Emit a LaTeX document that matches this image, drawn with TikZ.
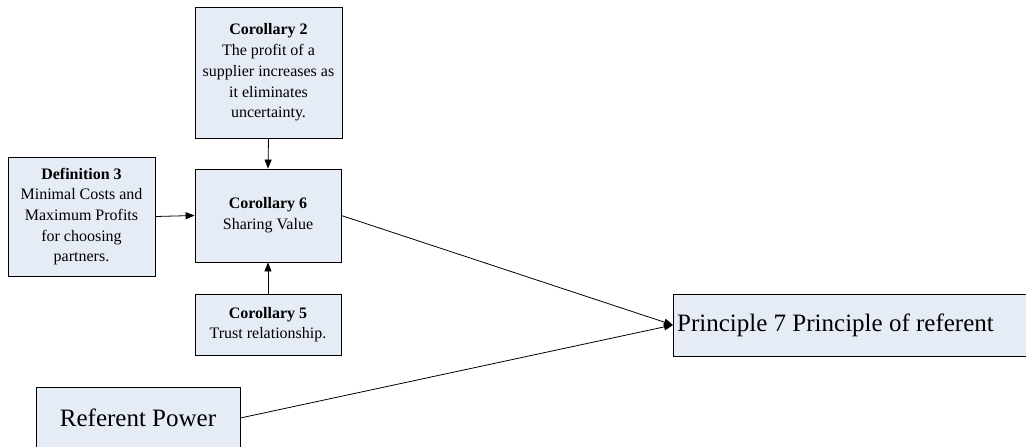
\documentclass[tikz,border=0pt]{standalone}
\usepackage{fontspec}
\setmainfont{Liberation Serif}
\usetikzlibrary{arrows.meta}
\begin{document}
\begin{tikzpicture}[x=1pt,y=-1pt,
  box/.style={draw=black,line width=0.8pt,fill=boxfill,inner sep=2pt,align=center,font=\fontsize{16}{20.7}\selectfont},
  bigbox/.style={draw=black,line width=0.8pt,fill=boxfill,inner sep=0pt},
  arr/.style={line width=0.8pt,-{Triangle[length=9pt,width=7pt]}},
  ln/.style={line width=0.8pt}]
\definecolor{boxfill}{HTML}{E6ECF6}
\useasboundingbox (0,0) rectangle (1026,447);
\clip (0,0) rectangle (1026,447);
\node[box,minimum width=147pt,minimum height=131pt] (c2) at (268.5,72.5) {\textbf{Corollary 2}\\The profit of a\\supplier increases as\\it eliminates\\uncertainty.};
\node[box,minimum width=147pt,minimum height=119pt] (d3) at (81.5,216.5) {\textbf{Definition 3}\\Minimal Costs and\\Maximum Profits\\for choosing\\partners.};
\node[box,minimum width=146pt,minimum height=93pt] (c6) at (268,215.5) {\textbf{Corollary 6}\\Sharing Value};
\node[box,minimum width=146pt,minimum height=61pt] (c5) at (268,324.5) {\textbf{Corollary 5}\\Trust relationship.};
\node[bigbox,minimum width=380pt,minimum height=62pt,anchor=west] (p7) at (673,325) {};
\node[anchor=west,inner sep=0pt,font=\fontsize{25}{29}\selectfont] (p7t) at (677,325) {Principle 7 Principle of referent};
\node[bigbox,minimum width=204pt,minimum height=62pt,font=\fontsize{25}{29}\selectfont] (rp) at (138,418) {Referent Power};
\draw[arr] (c2.south) -- (c6.north);
\draw[arr] (c5.north) -- (c6.south);
\draw[arr] (d3.east) -- (c6.west);
\coordinate (tip) at (p7.west);
\draw[arr] (c6.east) -- (tip);
\draw[arr] (rp.east) -- (tip);
\end{tikzpicture}
\end{document}
